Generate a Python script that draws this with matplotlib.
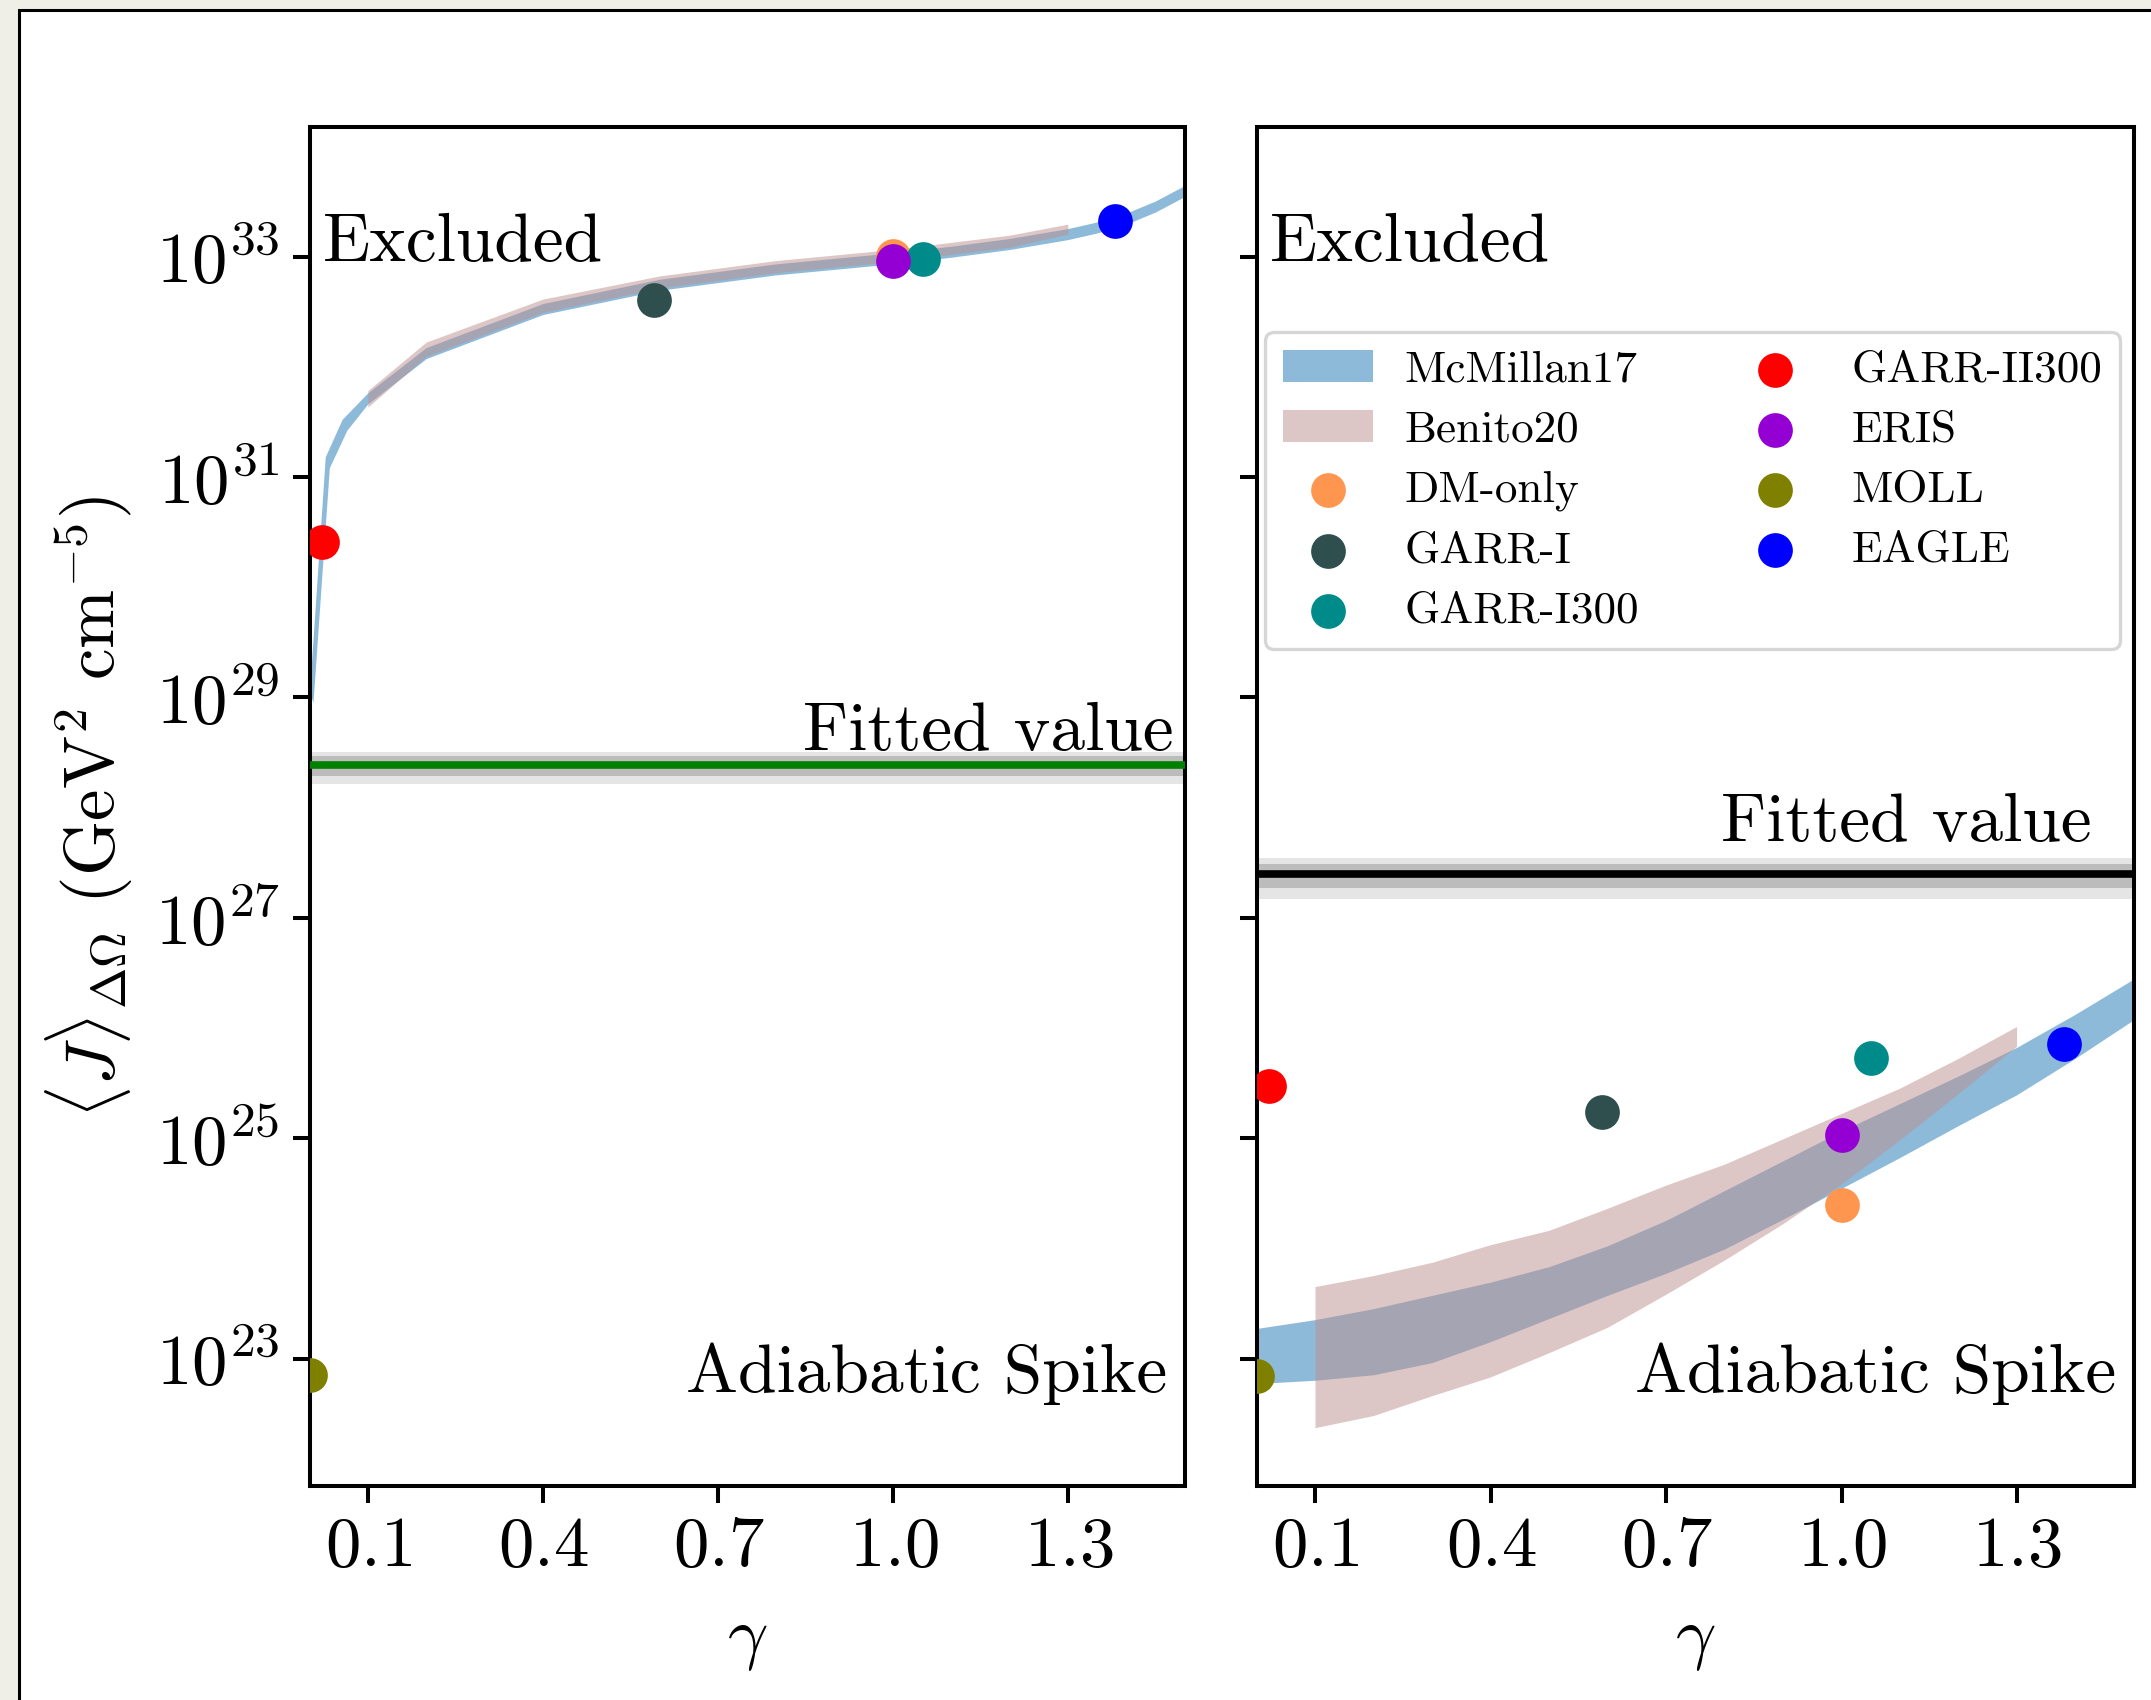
import numpy as np
import matplotlib
matplotlib.use("Agg")
import matplotlib.pyplot as plt
from matplotlib.patches import Rectangle

plt.rcParams.update({
    "font.family": "serif",
    "font.serif": ["cmr10"],
    "mathtext.fontset": "cm",
    "axes.formatter.use_mathtext": True,
    "font.size": 51,
})

# ---------------- data ----------------
# McMillan17 halo, standard (no spike) profile: log10 <J> band vs gamma
# (lower and upper edges of the band, each with its own gamma samples)
gamma_std_mcm_lo = [0.006, 0.034, 0.064, 0.1, 0.2, 0.4, 0.6, 0.8, 1.0, 1.1, 1.2, 1.3, 1.35, 1.4, 1.45, 1.5]
logJ_std_mcm_lo = [28.95, 31.08, 31.42, 31.66, 32.07, 32.47, 32.69, 32.83, 32.93, 32.99, 33.06, 33.15, 33.21, 33.29, 33.40, 33.54]
gamma_std_mcm_hi = [0.0, 0.027, 0.056, 0.1, 0.2, 0.4, 0.6, 0.8, 1.0, 1.1, 1.2, 1.3, 1.35, 1.4, 1.45, 1.5]
logJ_std_mcm_hi = [29.05, 31.18, 31.52, 31.76, 32.17, 32.57, 32.79, 32.93, 33.03, 33.09, 33.16, 33.25, 33.31, 33.39, 33.50, 33.64]

# Benito20 halo, standard profile
gamma_std_ben = [0.1, 0.2, 0.4, 0.6, 0.8, 1.0, 1.2, 1.3]
logJ_std_ben_lo = [31.63, 32.09, 32.49, 32.71, 32.85, 32.95, 33.08, 33.20]
logJ_std_ben_hi = [31.78, 32.22, 32.61, 32.82, 32.96, 33.06, 33.19, 33.29]

# McMillan17 halo with adiabatic spike
gamma_spk_mcm = [0.0, 0.1, 0.2, 0.3, 0.4, 0.5, 0.6, 0.7, 0.8, 0.9, 1.0, 1.1, 1.2, 1.3, 1.4, 1.5]
logJ_spk_mcm_lo = [22.77, 22.80, 22.85, 22.96, 23.15, 23.36, 23.57, 23.77, 23.99, 24.26, 24.54, 24.82, 25.11, 25.39, 25.72, 26.07]
logJ_spk_mcm_hi = [23.27, 23.35, 23.45, 23.57, 23.69, 23.83, 24.02, 24.25, 24.52, 24.79, 25.06, 25.31, 25.56, 25.82, 26.12, 26.44]

# Benito20 halo with adiabatic spike
gamma_spk_ben = [0.1, 0.2, 0.3, 0.4, 0.5, 0.6, 0.7, 0.8, 0.9, 1.0, 1.1, 1.2, 1.3]
logJ_spk_ben_lo = [22.37, 22.48, 22.66, 22.83, 23.05, 23.28, 23.58, 23.89, 24.22, 24.58, 24.98, 25.40, 25.83]
logJ_spk_ben_hi = [23.65, 23.75, 23.87, 24.03, 24.16, 24.36, 24.57, 24.76, 24.99, 25.22, 25.45, 25.72, 26.01]

# Hydrodynamical simulations
sim_names = ["DM-only", "GARR-I", "GARR-I300", "GARR-II300", "ERIS", "MOLL", "EAGLE"]
sim_colors = ["#ff964f", "darkslategray", "darkcyan", "red", "darkviolet", "olive", "blue"]
sim_gamma = [1.0, 0.59, 1.05, 0.02, 1.0, 0.0, 1.38]
sim_J_std = [1.02e33, 4.0e32, 9.5e32, 2.6e30, 9.1e32, 7.1e22, 2.1e33]
sim_J_spike = [2.5e24, 1.74e25, 5.4e25, 3.0e25, 1.07e25, 6.9e22, 7.2e25]

# Fitted <J> values with 1 and 2 sigma uncertainties
fit_std, fit_std_err1, fit_std_err2 = 2.43e28, 0.5e28, 0.78e28
fit_spk, fit_spk_err1, fit_spk_err2 = 2.48e27, 0.6e27, 1.0e27

x_ticks = [0.1, 0.4, 0.7, 1.0, 1.3]
y_ticks = [1e23, 1e25, 1e27, 1e29, 1e31, 1e33]

# ---------------- figure ----------------
fig = plt.figure(figsize=(21.51, 17.0), dpi=100)
fig.patch.set_facecolor("#efefe8")
frame = Rectangle((19 / 2151, -0.1), 1.2, 1.1 - 10 / 1700, transform=fig.transFigure,
                  facecolor="white", edgecolor="black", linewidth=2.2, zorder=-5)
fig.add_artist(frame)

ax1 = fig.add_axes([0.14412, 0.12588, 0.40679, 0.79941])
ax2 = fig.add_axes([0.58438, 0.12588, 0.40772, 0.79941], sharey=ax1)

blue = "#1f77b4"
rosy = "rosybrown"
msize = 25 ** 2
big = 50


def band(ax, g_lo, lo, g_hi, hi, color, label):
    """Filled band between a lower and an upper edge given in log10 J."""
    xs = list(g_lo) + list(g_hi)[::-1]
    ys = list(10 ** np.array(lo)) + list(10 ** np.array(hi))[::-1]
    ax.fill(xs, ys, color=color, alpha=0.5, lw=0, label=label, zorder=2)


def draw_panel(ax, mcm, ben, sim_J, fit, e1, e2, fit_color):
    band(ax, *mcm, blue, "McMillan17")
    band(ax, *ben, rosy, "Benito20")
    ax.axhspan(fit - e2, fit + e2, color="grey", alpha=0.2, lw=0, zorder=1)
    ax.axhspan(fit - e1, fit + e1, color="grey", alpha=0.4, lw=0, zorder=1)
    ax.axhline(fit, color=fit_color, lw=5.5, zorder=3)
    for name, col, g, J in zip(sim_names, sim_colors, sim_gamma, sim_J):
        ax.scatter([g], [J], s=msize, color=col, lw=0, label=name, zorder=4)
    ax.set_yscale("log")
    ax.set_xlim(0.0, 1.5)
    ax.set_ylim(7e21, 1.5e34)
    ax.set_xticks(x_ticks)
    ax.set_yticks(y_ticks)
    ax.yaxis.set_minor_locator(matplotlib.ticker.NullLocator())
    ax.set_xlabel(r"$\gamma$", labelpad=21)
    ax.tick_params(direction="out", length=12, width=2.9, pad=10, labelsize=51)
    for sp in ax.spines.values():
        sp.set_linewidth(2.9)


draw_panel(ax1,
           (gamma_std_mcm_lo, logJ_std_mcm_lo, gamma_std_mcm_hi, logJ_std_mcm_hi),
           (gamma_std_ben, logJ_std_ben_lo, gamma_std_ben, logJ_std_ben_hi),
           sim_J_std, fit_std, fit_std_err1, fit_std_err2, "green")
draw_panel(ax2,
           (gamma_spk_mcm, logJ_spk_mcm_lo, gamma_spk_mcm, logJ_spk_mcm_hi),
           (gamma_spk_ben, logJ_spk_ben_lo, gamma_spk_ben, logJ_spk_ben_hi),
           sim_J_spike, fit_spk, fit_spk_err1, fit_spk_err2, "black")

plt.setp(ax2.get_yticklabels(), visible=False)
ax1.set_ylabel(r"$\langle J\rangle_{\Delta\Omega}$ (GeV$^{2}$ cm$^{-5}$)", labelpad=14)

for ax, fx, fy in [(ax1, 0.987, 0.5416), (ax2, 0.952, 0.4746)]:
    ax.text(0.0142, 0.9017, "Excluded", transform=ax.transAxes, ha="left",
            va="baseline", fontsize=big)
    ax.text(fx, fy, "Fitted value", transform=ax.transAxes, ha="right",
            va="baseline", fontsize=big)
    ax.text(0.98, 0.069, "Adiabatic Spike", transform=ax.transAxes, ha="right",
            va="baseline", fontsize=big)

leg = ax2.legend(ncol=2, loc="upper left", bbox_to_anchor=(0.009, 0.849),
                 borderaxespad=0, fontsize=32.5, framealpha=0.8, edgecolor="0.8",
                 handlelength=2.0, handletextpad=0.7, columnspacing=2.0,
                 labelspacing=0.43)
leg.get_frame().set_linewidth(2.4)

fig.savefig("out.png", dpi=100, facecolor=fig.get_facecolor())
